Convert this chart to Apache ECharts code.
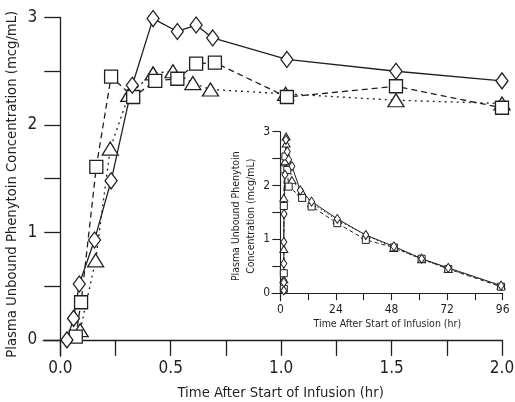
<!DOCTYPE html>
<html>
<head>
<meta charset="utf-8">
<script src="https://cdn.jsdelivr.net/npm/echarts@6/dist/echarts.min.js"></script>
<style>
	body { margin: 0; background: #fff; }
	#chart { width: 515px; height: 402px; }
</style>
</head>
<body>
<div id="chart"></div>
<script>
// main plot, first 2 hours
const mainDiamondTime = [0.03, 0.06, 0.086, 0.155, 0.23, 0.326, 0.42, 0.53, 0.615, 0.69, 1.026, 1.52, 2.0];
const mainDiamondConc = [0, 0.2, 0.52, 0.93, 1.48, 2.37, 2.99, 2.87, 2.93, 2.81, 2.61, 2.5, 2.41];
const mainSquareTime = [0.07, 0.094, 0.163, 0.23, 0.33, 0.43, 0.53, 0.615, 0.7, 1.026, 1.52, 2.0];
const mainSquareConc = [0.03, 0.35, 1.61, 2.45, 2.26, 2.41, 2.43, 2.57, 2.58, 2.26, 2.36, 2.16];
const mainTriangleTime = [0.09, 0.16, 0.226, 0.31, 0.42, 0.51, 0.6, 0.68, 1.02, 1.52, 2.0];
const mainTriangleConc = [0.09, 0.74, 1.78, 2.28, 2.48, 2.5, 2.39, 2.33, 2.29, 2.23, 2.2];

// inset, 0-96 hours
const insetDiamondTime = [1.5, 1.5, 1.5, 1.5, 1.6, 2.0, 2.4, 3.0, 3.6, 5, 8.6, 13.5, 24.6, 36.9, 49, 61, 72.5, 95.3];
const insetDiamondConc = [0.05, 0.2, 0.55, 0.95, 1.47, 2.2, 2.85, 2.63, 2.48, 2.36, 1.91, 1.7, 1.38, 1.08, 0.87, 0.64, 0.47, 0.14];
const insetSquareTime = [1.5, 1.5, 1.5, 1.7, 2.2, 3.0, 3.6, 9.4, 13.5, 24.6, 36.9, 49, 61, 72.5, 95.3];
const insetSquareConc = [0.08, 0.37, 1.62, 2.3, 2.54, 2.29, 1.98, 1.77, 1.61, 1.3, 0.99, 0.85, 0.64, 0.45, 0.12];
const insetTriangleTime = [1.5, 1.5, 1.5, 2.0, 2.5, 2.5, 5, 9.2, 13.5, 24.6, 36.9, 49, 61, 72.5, 95.3];
const insetTriangleConc = [0.26, 0.82, 1.77, 2.45, 2.91, 2.78, 2.1, 1.89, 1.67, 1.36, 1.08, 0.84, 0.63, 0.45, 0.14];

// ticks and labels
const mainXTicks = [0, 0.25, 0.5, 0.75, 1, 1.25, 1.5, 1.75, 2];
const mainXLabels = [0, 0.5, 1, 1.5, 2];
const mainYTicks = [0, 0.5, 1, 1.5, 2, 2.5, 3];
const mainYLabels = [0, 1, 2, 3];
const insetXTicks = [0, 12, 24, 36, 48, 60, 72, 84, 96];
const insetXLabels = [0, 24, 48, 72, 96];
const insetYTicks = [0, 0.5, 1, 1.5, 2, 2.5, 3];
const insetYLabels = [0, 1, 2, 3];

const ink = '#231f20';
const font = '"Liberation Sans Narrow", "DejaVu Sans Condensed", "Liberation Sans", sans-serif';

function pairs(xs, ys) {
	return xs.map((x, i) => [x, ys[i]]);
}

function makeSeries(idx, data, symbol, size, dash, width) {
	return {
		type: 'line',
		xAxisIndex: idx,
		yAxisIndex: idx,
		data: data,
		symbol: symbol,
		symbolSize: size,
		showAllSymbol: true,
		animation: false,
		lineStyle: { color: ink, width: width, type: dash },
		itemStyle: { color: '#fff', borderColor: ink, borderWidth: width },
		emphasis: { disabled: true },
	};
}

function makeAxis(grid, min, max, ticks, labels, o) {
	return {
		type: 'value',
		gridIndex: grid,
		min: min,
		max: max,
		splitLine: { show: false },
		axisLine: { show: true, onZero: true, lineStyle: { color: ink, width: o.lw } },
		axisTick: { show: true, length: o.tick, customValues: ticks, lineStyle: { color: ink, width: o.lw } },
		axisLabel: {
			customValues: labels,
			margin: o.margin,
			color: ink,
			fontFamily: font,
			fontSize: o.fs,
			formatter: o.fmt,
		},
		name: o.name,
		nameLocation: 'middle',
		nameGap: o.gap,
		nameMoveOverlap: false,
		nameTextStyle: {
			color: ink,
			fontFamily: font,
			fontSize: o.nfs,
			lineHeight: o.nlh,
			padding: o.pad || 0,
		},
	};
}

let myChart = echarts.init(document.getElementById('chart'), null, { renderer: 'canvas' });

let option = {
	backgroundColor: '#fff',
	animation: false,
	grid: [
		{ left: 43.3, top: 17.5, width: 458.7, height: 338.5, outerBoundsMode: 'none' },
		{ left: 272, top: 131.7, width: 230.7, height: 169, outerBoundsMode: 'none' },
	],
	xAxis: [
		makeAxis(0, -0.077, 2, mainXTicks, mainXLabels, {
			lw: 1.3, tick: 16, margin: 4.5, fs: 17, fmt: (v) => v.toFixed(1),
			name: 'Time After Start of Infusion (hr)', gap: 29.5, nfs: 14.7, pad: [0, 0, 0, 16],
		}),
		makeAxis(1, -3.6, 96, insetXTicks, insetXLabels, {
			lw: 1.1, tick: 7, margin: 3, fs: 12, fmt: (v) => String(v),
			name: 'Time After Start of Infusion (hr)', gap: 18, nfs: 10.5,
		}),
	],
	yAxis: [
		makeAxis(0, -0.15, 3, mainYTicks, mainYLabels, {
			lw: 1.3, tick: 16, margin: 6, fs: 17, fmt: (v) => String(v),
			name: 'Plasma Unbound Phenytoin Concentration (mcg/mL)', gap: 24, nfs: 14.7, pad: [0, 0, 0, 5],
		}),
		makeAxis(1, -0.14, 3, insetYTicks, insetYLabels, {
			lw: 1.1, tick: 8, margin: 2, fs: 12, fmt: (v) => String(v),
			name: 'Plasma Unbound Phenytoin\nConcentration (mcg/mL)', gap: 13, nfs: 10.5, nlh: 15,
		}),
	],
	series: [
		makeSeries(0, pairs(mainTriangleTime, mainTriangleConc), 'triangle', [16, 13], [2, 4], 1.3),
		makeSeries(0, pairs(mainSquareTime, mainSquareConc), 'rect', [13, 13], [6, 4], 1.3),
		makeSeries(0, pairs(mainDiamondTime, mainDiamondConc), 'diamond', [12, 16], 'solid', 1.3),
		makeSeries(1, pairs(insetTriangleTime, insetTriangleConc), 'triangle', [8, 7], [1.5, 2.5], 1),
		makeSeries(1, pairs(insetSquareTime, insetSquareConc), 'rect', [7, 7], [4, 3], 1),
		makeSeries(1, pairs(insetDiamondTime, insetDiamondConc), 'diamond', [6, 9], 'solid', 1),
	],
};

myChart.setOption(option);
</script>
</body>
</html>
